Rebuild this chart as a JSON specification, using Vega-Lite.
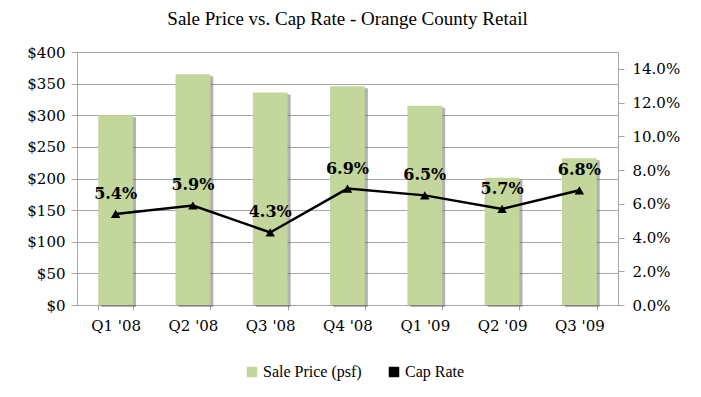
{
  "$schema": "https://vega.github.io/schema/vega-lite/v6.json",
  "width": 701,
  "height": 397,
  "autosize": {"type": "fit", "contains": "padding"},
  "padding": {"left": 26, "right": 21, "top": 10, "bottom": 64},
  "background": "white",
  "title": {
    "text": "Sale Price vs. Cap Rate - Orange County Retail",
    "font": "Liberation Serif",
    "fontSize": 19,
    "fontWeight": "normal",
    "color": "black",
    "offset": 16
  },
  "data": {
    "values": [
      {"quarter": "Q1 '08", "price": 300, "cap": 0.054},
      {"quarter": "Q2 '08", "price": 365, "cap": 0.059},
      {"quarter": "Q3 '08", "price": 336, "cap": 0.043},
      {"quarter": "Q4 '08", "price": 346, "cap": 0.069},
      {"quarter": "Q1 '09", "price": 315, "cap": 0.065},
      {"quarter": "Q2 '09", "price": 201, "cap": 0.057},
      {"quarter": "Q3 '09", "price": 232, "cap": 0.068}
    ]
  },
  "config": {
    "view": {"stroke": null},
    "axis": {
      "labelFont": "DejaVu Serif",
      "labelFontSize": 15,
      "labelColor": "black",
      "domainColor": "#a6a6a6",
      "tickColor": "#a6a6a6",
      "gridColor": "#a6a6a6",
      "labelOverlap": false
    },
    "legend": {
      "labelFont": "Liberation Serif",
      "labelFontSize": 16,
      "labelColor": "black"
    }
  },
  "encoding": {
    "x": {
      "field": "quarter",
      "type": "nominal",
      "sort": null,
      "scale": {"paddingInner": 0.55},
      "axis": {
        "title": null,
        "labelAngle": 0,
        "tickBand": "extent",
        "tickSize": 5,
        "labelPadding": 8,
        "labelFontSize": 15
      }
    }
  },
  "layer": [
    {
      "mark": {"type": "bar", "color": "#555555", "opacity": 0.45, "xOffset": 3, "yOffset": 2},
      "encoding": {
        "y": {"field": "price", "type": "quantitative", "scale": {"domain": [0, 400]}, "axis": null}
      }
    },
    {
      "mark": {"type": "bar"},
      "encoding": {
        "y": {
          "field": "price",
          "type": "quantitative",
          "scale": {"domain": [0, 400]},
          "axis": {
            "title": null,
            "values": [0, 50, 100, 150, 200, 250, 300, 350, 400],
            "labelExpr": "'$' + datum.value",
            "grid": true,
            "tickSize": 6,
            "labelPadding": 6,
            "labelOverlap": false
          }
        },
        "color": {
          "datum": "Sale Price (psf)",
          "type": "nominal",
          "scale": {"domain": ["Sale Price (psf)", "Cap Rate"], "range": ["#c3d69b", "#000000"]},
          "legend": {
            "title": null,
            "orient": "none",
            "legendX": 167,
            "legendY": 312,
            "direction": "horizontal",
            "symbolType": "square",
            "symbolSize": 110,
            "symbolStrokeWidth": 0,
            "columnPadding": 24,
            "labelOffset": 3
          }
        }
      }
    },
    {
      "encoding": {
        "y": {
          "field": "cap",
          "type": "quantitative",
          "scale": {"domain": [0, 0.15], "nice": false},
          "axis": {
            "title": null,
            "orient": "right",
            "values": [0, 0.02, 0.04, 0.06, 0.08, 0.1, 0.12, 0.14],
            "format": ".1%",
            "grid": false,
            "tickSize": 6,
            "labelPadding": 8,
            "labelOverlap": false
          }
        }
      },
      "layer": [
        {
          "mark": {"type": "line", "color": "black", "strokeWidth": 2.5}
        },
        {
          "mark": {"type": "point", "shape": "triangle-up", "filled": true, "size": 90, "opacity": 1},
          "encoding": {
            "color": {"datum": "Cap Rate", "type": "nominal"}
          }
        },
        {
          "mark": {"type": "text", "font": "DejaVu Serif", "fontWeight": "bold", "fontSize": 16, "dy": -20, "color": "black"},
          "encoding": {
            "text": {"field": "cap", "type": "quantitative", "format": ".1%"}
          }
        }
      ]
    }
  ],
  "resolve": {"scale": {"y": "independent"}}
}
